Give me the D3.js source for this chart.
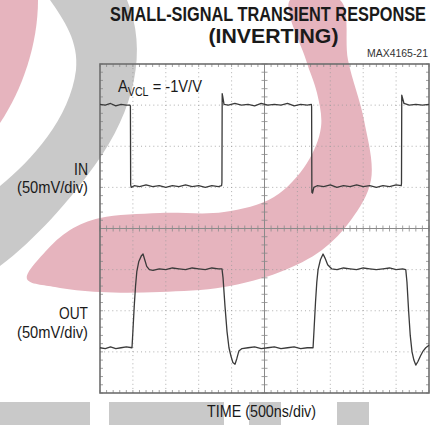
<!DOCTYPE html>
<html>
<head>
<meta charset="utf-8">
<script src="https://cdn.jsdelivr.net/npm/d3@7"></script>
<style>
  body { margin: 0; background: #fff; }
  svg { display: block; font-family: "Liberation Sans", Arial, sans-serif; }
</style>
</head>
<body>
<svg id="chart" width="448" height="425"></svg>
<script>
const width = 448, height = 425;
const plot = { left: 100, top: 64, width: 329, height: 329 };

// Scope settings: 500ns/div across 10 divs, 50mV/div across 8 divs
const timeDomain = [0, 5000];
const voltDomain = [-200, 200];
const timeGrid = [500, 1000, 1500, 2000, 2500, 3000, 3500, 4000, 4500];
const voltGrid = [-150, -100, -50, 0, 50, 100, 150];

// IN trace (ns, mV)
const inTime = [0, 80, 160, 240, 320, 400, 455, 462, 466, 475, 520, 600, 700, 800, 900, 1000, 1100, 1200, 1300, 1400, 1500, 1600, 1700, 1800, 1848, 1853, 1857, 1866, 1885, 1950, 2050, 2150, 2250, 2350, 2450, 2550, 2650, 2750, 2850, 2950, 3050, 3150, 3212, 3216, 3220, 3230, 3250, 3300, 3400, 3500, 3600, 3700, 3800, 3900, 4000, 4100, 4200, 4300, 4400, 4500, 4578, 4582, 4586, 4596, 4620, 4700, 4800, 4900, 5000];
const inMv   = [151, 150, 152, 149, 151, 150, 150, 149, 53, 50, 52, 51, 53, 51, 52, 50, 52, 51, 53, 51, 52, 50, 52, 51, 52, 56, 164, 160, 151, 150, 152, 150, 151, 149, 152, 150, 151, 150, 152, 149, 151, 150, 151, 148, 44, 43, 50, 52, 51, 53, 50, 52, 51, 53, 51, 52, 50, 52, 51, 53, 52, 55, 162, 159, 152, 150, 151, 150, 151];

// OUT trace (ns, mV)
const outTime = [0, 80, 160, 240, 320, 400, 486, 500, 520, 540, 560, 590, 630, 654, 680, 710, 750, 806, 900, 1000, 1100, 1200, 1300, 1400, 1500, 1600, 1700, 1800, 1854, 1870, 1900, 1930, 1960, 1990, 2020, 2052, 2080, 2110, 2158, 2250, 2350, 2450, 2550, 2650, 2750, 2850, 2950, 3050, 3150, 3238, 3255, 3275, 3295, 3314, 3350, 3390, 3420, 3460, 3520, 3602, 3700, 3800, 3900, 4000, 4100, 4200, 4300, 4400, 4500, 4600, 4647, 4665, 4690, 4715, 4742, 4770, 4799, 4830, 4870, 4910, 4951, 5000];
const outMv   = [-145, -146, -144, -146, -145, -144, -145, -125, -95, -70, -52, -40, -33, -31, -38, -46, -50, -51, -49, -50, -48, -49, -50, -48, -49, -50, -48, -49, -49, -60, -95, -125, -145, -155, -163, -165, -158, -149, -146, -145, -144, -146, -145, -144, -146, -145, -144, -146, -145, -145, -120, -90, -65, -50, -38, -31, -36, -44, -49, -50, -48, -49, -50, -48, -49, -50, -49, -48, -50, -49, -50, -65, -100, -130, -150, -160, -166, -162, -155, -149, -145, -142];

const svg = d3.select("#chart");
const x = d3.scaleLinear().domain(timeDomain).range([plot.left, plot.left + plot.width]);
const y = d3.scaleLinear().domain(voltDomain).range([plot.top + plot.height, plot.top]);

// background watermark shapes
const pink = "#e6b4be", grey = "#c9c9c9";
const bg = svg.append("g");
bg.append("path").attr("fill", pink)
    .attr("d", "M0,0 L38,0 C38,45 22,90 0,123 Z");
bg.append("path").attr("fill", grey)
    .attr("d", "M50,0 L127,0 C148,50 135,110 95,165 C70,200 35,240 0,266 L0,186 C32,160 70,118 76,70 C79,42 64,20 50,0 Z");
const crescent = [[290, 0], [340, 0], [348, 60], [364, 120], [371, 180], [351, 220], [322, 250], [280, 272], [224, 287], [160, 292], [100, 292], [55, 287], [27, 279],
    [45, 252], [70, 230], [100, 218], [160, 213], [224, 212], [274, 197], [307, 163], [321, 127], [317, 93], [306, 60]];
bg.append("path").attr("fill", pink)
    .attr("d", d3.line().curve(d3.curveCatmullRomClosed.alpha(0.5))(crescent));
[[0, 90], [109, 224], [249, 281], [337, 369]].forEach(([a, b]) => {
    bg.append("rect").attr("x", a).attr("y", 402).attr("width", b - a).attr("height", 23).attr("fill", grey);
});

// dotted grid
const grid = svg.append("g").attr("stroke", "#9a9a9a").attr("stroke-width", 0.8).attr("stroke-dasharray", "1,3.1");
grid.selectAll(".vg").data(timeGrid.filter(t => t !== 2500)).join("line")
    .attr("x1", d => x(d)).attr("x2", d => x(d)).attr("y1", plot.top).attr("y2", plot.top + plot.height);
grid.selectAll(".hg").data(voltGrid.filter(v => v !== 0)).join("line")
    .attr("x1", plot.left).attr("x2", plot.left + plot.width).attr("y1", d => y(d)).attr("y2", d => y(d));

// center axes with minor ticks, frame with inward ticks
const axisCol = "#8a8a8a";
const ax = svg.append("g").attr("stroke", axisCol);
ax.append("line").attr("x1", x(2500)).attr("x2", x(2500)).attr("y1", plot.top).attr("y2", plot.top + plot.height).attr("stroke-width", 1);
ax.append("line").attr("x1", plot.left).attr("x2", plot.left + plot.width).attr("y1", y(0)).attr("y2", y(0)).attr("stroke-width", 1.2);
const minorT = d3.range(0, 5001, 100), minorV = d3.range(-200, 201, 10);
ax.selectAll(".tx").data(minorT).join("line").attr("stroke-width", 0.8)
    .attr("x1", d => x(d)).attr("x2", d => x(d)).attr("y1", y(0) - 3).attr("y2", y(0) + 3);
ax.selectAll(".ty").data(minorV).join("line").attr("stroke-width", 0.8)
    .attr("x1", x(2500) - 3).attr("x2", x(2500) + 3).attr("y1", d => y(d)).attr("y2", d => y(d));
ax.selectAll(".ft").data(minorT).join("line").attr("stroke-width", 0.8)
    .attr("x1", d => x(d)).attr("x2", d => x(d)).attr("y1", plot.top).attr("y2", plot.top + 3);
ax.selectAll(".fb").data(minorT).join("line").attr("stroke-width", 0.8)
    .attr("x1", d => x(d)).attr("x2", d => x(d)).attr("y1", plot.top + plot.height).attr("y2", plot.top + plot.height - 3);
ax.selectAll(".fl").data(minorV).join("line").attr("stroke-width", 0.8)
    .attr("x1", plot.left).attr("x2", plot.left + 3).attr("y1", d => y(d)).attr("y2", d => y(d));
ax.selectAll(".fr").data(minorV).join("line").attr("stroke-width", 0.8)
    .attr("x1", plot.left + plot.width).attr("x2", plot.left + plot.width - 3).attr("y1", d => y(d)).attr("y2", d => y(d));
svg.append("rect").attr("x", plot.left).attr("y", plot.top).attr("width", plot.width).attr("height", plot.height)
    .attr("fill", "none").attr("stroke", "#6e6e6e").attr("stroke-width", 1.6);

// traces
const line = d3.line().x(d => x(d[0])).y(d => y(d[1]));
[[inTime, inMv], [outTime, outMv]].forEach(([ts, vs]) => {
    svg.append("path").datum(ts.map((t, i) => [t, vs[i]]))
        .attr("fill", "none").attr("stroke", "#3a3a3a").attr("stroke-width", 1.3)
        .attr("stroke-linejoin", "round").attr("d", line);
});

// texts
const txt = (s, xx, yy, size, anchor, len, weight) => {
    const t = svg.append("text").attr("x", xx).attr("y", yy).attr("font-size", size)
        .attr("text-anchor", anchor).attr("fill", "#1a1a1a").text(s);
    if (weight) t.attr("font-weight", weight);
    if (len) t.attr("textLength", len).attr("lengthAdjust", "spacingAndGlyphs");
    return t;
};
txt("SMALL-SIGNAL TRANSIENT RESPONSE", 268, 21, 19.5, "middle", 316, "bold");
txt("(INVERTING)", 273.5, 43, 19.5, "middle", 130, "bold");
txt("MAX4165-21", 428, 57, 10.5, "end", 61).attr("fill", "#333");
txt("IN", 88, 175, 16.5, "end", 14);
txt("(50mV/div)", 88, 193, 16.5, "end", 71);
txt("OUT", 88, 319, 16.5, "end", 29);
txt("(50mV/div)", 88, 338, 16.5, "end", 71);
txt("TIME (500ns/div)", 261.5, 417, 16.5, "middle", 109);

const gain = svg.append("text").attr("x", 118).attr("y", 92).attr("font-size", 16.5).attr("fill", "#1a1a1a")
    .attr("textLength", 84).attr("lengthAdjust", "spacingAndGlyphs");
gain.append("tspan").text("A");
gain.append("tspan").attr("dy", 4).attr("font-size", 12).text("VCL");
gain.append("tspan").attr("dy", -4).text(" = -1V/V");
</script>
</body>
</html>
